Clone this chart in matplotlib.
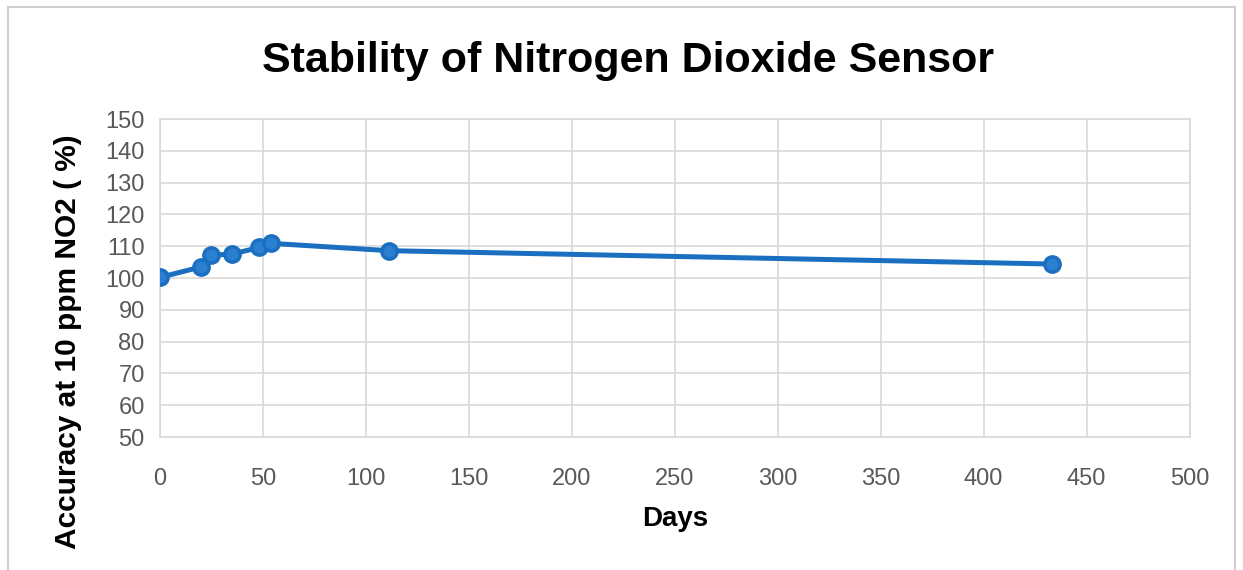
import matplotlib.pyplot as plt
from matplotlib.patches import Rectangle

days = [0, 20, 25, 35, 48, 54, 111, 433]
accuracy = [100.2, 103.5, 107.2, 107.5, 109.6, 110.9, 108.6, 104.4]

plt.rcParams['font.family'] = ['Liberation Sans', 'DejaVu Sans']

fig = plt.figure(figsize=(12.43, 5.70), dpi=100)
ax = fig.add_axes([0.1287, 0.2333, 0.8283, 0.5579])

ax.plot(days, accuracy, color='#1a6fc0', lw=3.6, marker='o', ms=11,
        markerfacecolor='#2b7fd0', markeredgecolor='#1a6fc0', markeredgewidth=2.5,
        solid_capstyle='round', zorder=3)

ax.set_xlim(0, 500)
ax.set_ylim(50, 150)
ax.set_xticks(range(0, 501, 50))
ax.set_yticks(range(50, 151, 10))
ax.grid(True, color='#d9d9d9', lw=1.2)
ax.set_axisbelow(True)
for s in ax.spines.values():
    s.set_color('#d9d9d9')
    s.set_linewidth(1.2)
ax.tick_params(length=0, labelsize=17, labelcolor='#595959')
ax.tick_params(axis='x', pad=22)
ax.tick_params(axis='y', pad=11)

ax.set_xlabel('Days', fontsize=20, fontweight='bold', labelpad=12)
ax.set_ylabel('Accuracy at 10 ppm NO2 ( %)', fontsize=21.5, fontweight='bold')
ax.yaxis.set_label_coords(-0.076, 0.30)
fig.text(0.505, 0.893, 'Stability of Nitrogen Dioxide Sensor', fontsize=31,
         fontweight='bold', ha='center', va='center')

fig.patches.append(Rectangle((0.0065, -0.02), 0.987, 1.008, transform=fig.transFigure,
                             fill=False, edgecolor='#d0d0d0', lw=1.5))

fig.savefig('out.png', dpi=100)
